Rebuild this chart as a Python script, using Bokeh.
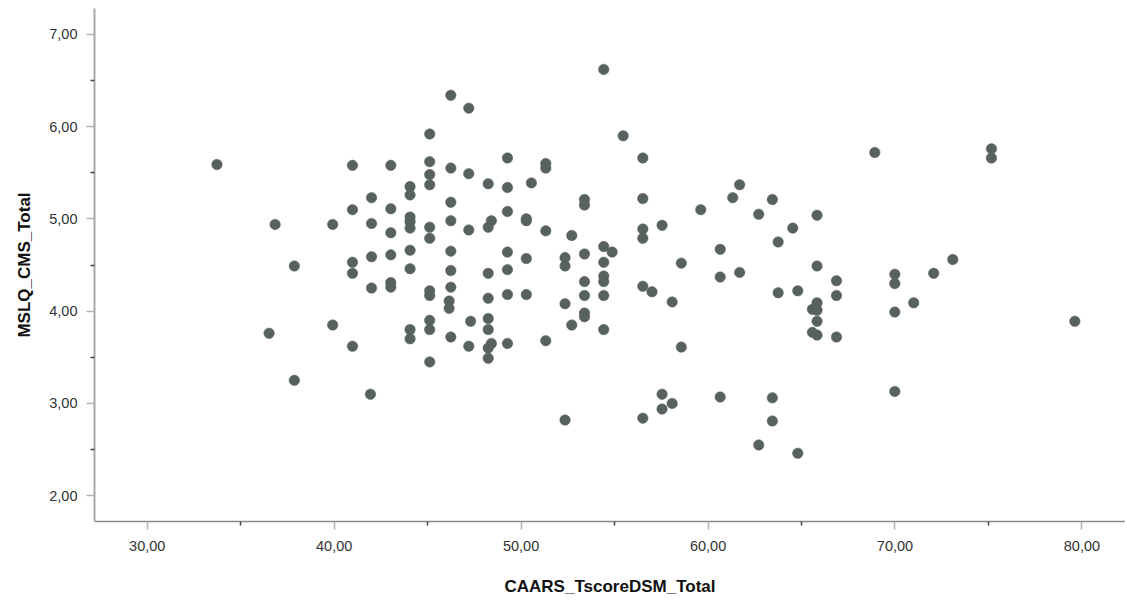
from bokeh.plotting import figure
from bokeh.models import FixedTicker, CustomJSTickFormatter, Range1d
from bokeh.embed import file_html
from bokeh.resources import INLINE

# CAARS_TscoreDSM_Total (x) and MSLQ_CMS_Total (y)
caars_x = [
    33.73, 36.52, 36.84, 37.87, 37.87, 39.92, 39.92,
    40.98, 40.98, 40.98, 40.98, 40.98,
    42.00, 42.00, 42.00, 42.00, 41.94,
    43.03, 43.03, 43.03, 43.03, 43.03, 43.03,
    44.06, 44.06, 44.06, 44.06, 44.06, 44.06, 44.06, 44.06, 44.06,
    45.11, 45.11, 45.11, 45.11, 45.11, 45.11, 45.11, 45.11, 45.11, 45.11, 45.11,
    46.24, 47.20, 49.27, 51.32, 51.32, 46.24, 47.20, 48.24, 49.27, 50.55,
    46.24, 46.24, 47.20, 48.24, 48.41, 49.27, 50.28, 50.28, 51.32, 52.71,
    53.39, 53.39, 46.24, 46.24, 46.24, 46.15, 46.15, 46.24, 47.20, 47.30,
    48.24, 48.24, 48.24, 48.24, 48.24, 48.41, 48.24,
    49.27, 49.27, 49.27, 49.27, 50.28, 50.28, 51.32,
    52.35, 52.35, 52.35, 52.71, 52.35,
    53.39, 53.39, 53.39, 53.39, 53.39,
    54.42, 54.87, 54.42, 54.42, 54.42, 54.42, 54.42, 54.42,
    55.46, 56.51, 56.51, 56.51, 56.51, 57.54, 59.61, 61.69, 61.32, 63.44,
    62.71, 65.83, 64.53, 63.75, 60.65, 58.57, 60.65, 61.69, 65.83, 56.51,
    57.00, 58.08, 63.75, 64.80, 66.87, 66.87, 65.83, 65.58, 65.83, 65.83,
    65.58, 65.83, 66.87, 58.57, 57.54, 58.08, 57.54, 56.51, 60.65, 63.44,
    63.44, 62.71, 64.80, 68.92,
    75.16, 75.16, 69.99, 69.99, 72.07, 73.09, 71.00, 69.99, 79.62, 69.99,
]
mslq_y = [
    5.59, 3.76, 4.94, 4.49, 3.25, 4.94, 3.85,
    5.58, 5.10, 4.53, 4.41, 3.62,
    5.23, 4.95, 4.59, 4.25, 3.10,
    5.58, 5.11, 4.85, 4.61, 4.31, 4.26,
    5.35, 5.26, 5.02, 4.97, 4.90, 4.66, 4.46, 3.80, 3.70,
    5.92, 5.62, 5.48, 5.37, 4.91, 4.79, 4.22, 4.17, 3.90, 3.80, 3.45,
    6.34, 6.20, 5.66, 5.60, 5.55, 5.55, 5.49, 5.38, 5.34, 5.39,
    5.18, 4.98, 4.88, 4.91, 4.98, 5.08, 5.00, 4.98, 4.87, 4.82,
    5.21, 5.15, 4.65, 4.44, 4.26, 4.11, 4.03, 3.72, 3.62, 3.89,
    4.41, 4.14, 3.92, 3.80, 3.60, 3.65, 3.49,
    4.64, 4.45, 4.18, 3.65, 4.57, 4.18, 3.68,
    4.58, 4.49, 4.08, 3.85, 2.82,
    4.62, 4.32, 4.17, 3.98, 3.94,
    4.70, 4.64, 4.53, 4.38, 4.32, 4.17, 3.80, 6.62,
    5.90, 5.66, 5.22, 4.89, 4.79, 4.93, 5.10, 5.37, 5.23, 5.21,
    5.05, 5.04, 4.90, 4.75, 4.67, 4.52, 4.37, 4.42, 4.49, 4.27,
    4.21, 4.10, 4.20, 4.22, 4.33, 4.17, 4.09, 4.02, 4.01, 3.89,
    3.77, 3.74, 3.72, 3.61, 3.10, 3.00, 2.94, 2.84, 3.07, 3.06,
    2.81, 2.55, 2.46, 5.72,
    5.76, 5.66, 4.40, 4.30, 4.41, 4.56, 4.09, 3.99, 3.89, 3.13,
]

x_major_ticks = [30, 40, 50, 60, 70, 80]
x_minor_ticks = [35, 45, 55, 65, 75]
y_major_ticks = [2, 3, 4, 5, 6, 7]
y_minor_ticks = [2.5, 3.5, 4.5, 5.5, 6.5]

p = figure(
    width=1125, height=600,
    x_range=Range1d(27.18, 82.33), y_range=Range1d(1.72, 7.28),
    min_border_left=94, min_border_right=0, min_border_top=8, min_border_bottom=79,
    output_backend="svg", toolbar_location=None,
    x_axis_label="CAARS_TscoreDSM_Total", y_axis_label="MSLQ_CMS_Total",
)
p.outline_line_color = None
p.xgrid.visible = False
p.ygrid.visible = False
p.background_fill_color = "white"
p.border_fill_color = "white"

p.scatter(caars_x, mslq_y, size=10.5, marker="circle",
          fill_color="#58625d", line_color="#58625d", line_width=0.5)

fmt = CustomJSTickFormatter(code="return tick.toFixed(2).replace('.', ',');")

for ax, major, minor in ((p.xaxis[0], x_major_ticks, x_minor_ticks),
                         (p.yaxis[0], y_major_ticks, y_minor_ticks)):
    ax.ticker = FixedTicker(ticks=major, minor_ticks=minor)
    ax.formatter = fmt
    ax.major_tick_out = 8
    ax.major_tick_in = 0
    ax.major_tick_line_color = "#b4b4b4"
    ax.major_tick_line_width = 1.5
    ax.minor_tick_out = 4
    ax.minor_tick_in = 0
    ax.minor_tick_line_color = "#444444"
    ax.minor_tick_line_width = 1.5
    ax.major_label_text_font = "Liberation Sans"
    ax.major_label_text_font_size = "14.5px"
    ax.major_label_text_color = "#333333"
    ax.axis_label_text_font = "Liberation Sans"
    ax.axis_label_text_font_style = "bold"
    ax.axis_label_text_font_size = "17px"
    ax.axis_label_text_color = "#111111"

p.yaxis[0].axis_line_color = "#a8a8a8"
p.yaxis[0].axis_line_width = 2
p.yaxis[0].major_label_standoff = 9
p.yaxis[0].axis_label_standoff = 12
p.xaxis[0].axis_line_color = "#8a8a8a"
p.xaxis[0].axis_line_width = 1.5
p.xaxis[0].major_label_standoff = 11
p.xaxis[0].axis_label_standoff = 23

open("out.html", "w").write(file_html(p, INLINE))
